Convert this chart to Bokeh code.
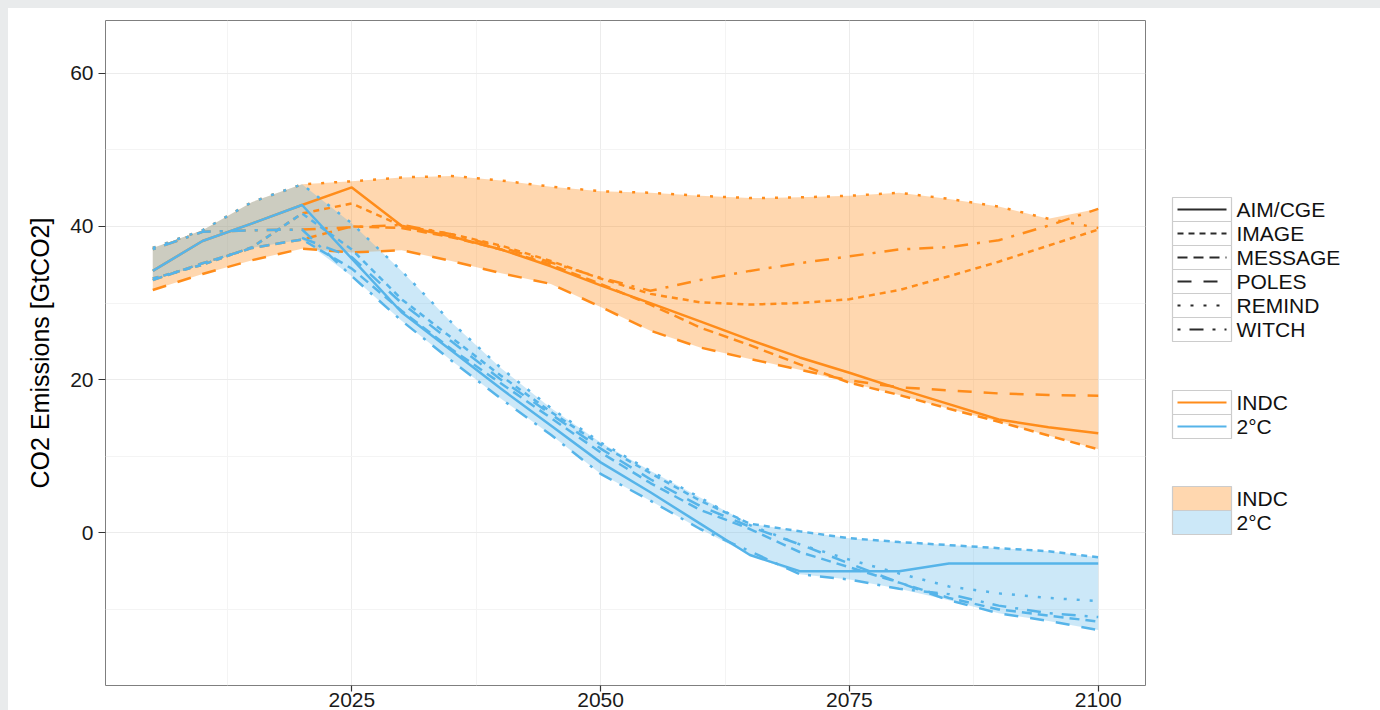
import numpy as np
from bokeh.plotting import figure
from bokeh.models import Range1d, FixedTicker, GlobalInlineStyleSheet
from bokeh.layouts import row
from bokeh.core.properties import value
from bokeh.embed import file_html
from bokeh.resources import INLINE

nan = float("nan")

years = [2005, 2010, 2015, 2020, 2025, 2030, 2035, 2040, 2045, 2050,
         2055, 2060, 2065, 2070, 2075, 2080, 2085, 2090, 2095, 2100]

models = ["AIM/CGE", "IMAGE", "MESSAGE", "POLES", "REMIND", "WITCH"]
scenarios = ["INDC", "2°C"]

# INDC scenario, GtCO2
aim_indc = [34.2, 38.1, 40.4, 42.8, 45.1, 40.1, 38.7, 37.0, 34.8, 32.3, 30.0, 27.6, 25.2, 22.9, 20.9, 18.8, 16.8, 14.8, 13.8, 13.0]
image_indc = [33.2, 35.0, 37.3, 41.7, 43.0, 40.1, 39.0, 37.5, 35.5, 33.2, 31.2, 30.1, 29.8, 30.0, 30.5, 31.7, 33.5, 35.4, 37.5, 39.6]
message_indc = [33.0, 35.2, 37.2, 38.3, 40.0, 39.8, 38.6, 37.0, 35.0, 32.5, 29.8, 26.8, 24.5, 22.0, 19.6, 18.0, 16.2, 14.5, 12.7, 10.9]
poles_indc = [31.7, 33.8, 35.6, 37.1, 36.6, 36.9, 35.5, 33.9, 32.5, 29.5, 26.4, 24.2, 22.7, 21.3, 19.9, 19.0, 18.6, 18.2, 18.0, 17.9]
remind_indc = [37.2, 39.5, 43.2, 45.5, 45.9, 46.4, 46.6, 46.0, 45.2, 44.6, 44.4, 44.0, 43.7, 43.8, 44.0, 44.4, 43.6, 42.6, 41.0, 39.8]
witch_indc = [37.0, 39.3, 39.5, 39.6, 39.9, 40.2, 39.0, 37.3, 35.3, 33.3, 31.6, 33.0, 34.2, 35.2, 36.1, 37.0, 37.3, 38.2, 40.1, 42.3]

# 2°C scenario, GtCO2
aim_2c = [34.2, 38.1, 40.4, 42.8, 35.8, 28.8, 23.8, 18.8, 14.0, 9.2, 5.3, 1.2, -2.9, -5.0, -5.0, -5.0, -4.0, -4.0, -4.0, -4.0]
image_2c = [33.2, 35.0, 37.3, 41.7, 37.0, 30.5, 25.5, 20.5, 15.8, 11.5, 7.8, 4.2, 1.2, 0.2, -0.7, -1.2, -1.6, -2.0, -2.4, -3.2]
message_2c = [33.0, 35.2, 37.2, 38.3, 34.5, 29.0, 24.0, 19.5, 15.0, 10.5, 6.5, 3.0, 0.5, -2.5, -4.5, -6.5, -8.5, -10.0, -10.8, -11.6]
poles_2c = [nan, nan, nan, 38.5, 36.0, 30.0, 25.0, 20.0, 15.5, 11.0, 7.0, 3.5, 0.8, -1.5, -4.0, -6.5, -8.8, -10.5, -11.5, -12.7]
remind_2c = [37.2, 39.5, 43.2, 45.5, 40.4, 34.2, 27.5, 21.5, 16.3, 11.8, 8.1, 4.6, 1.0, -1.5, -3.5, -5.3, -7.0, -7.9, -8.5, -8.9]
witch_2c = [37.0, 39.3, 39.5, 39.6, 33.5, 27.7, 22.5, 17.5, 12.8, 7.7, 4.2, 0.5, -2.4, -5.4, -6.1, -7.3, -8.0, -9.5, -10.5, -11.0]

x_ticks = [2025, 2050, 2075, 2100]
y_ticks = [0, 20, 40, 60]

indc = [aim_indc, image_indc, message_indc, poles_indc, remind_indc, witch_indc]
two_c = [aim_2c, image_2c, message_2c, poles_2c, remind_2c, witch_2c]

# styles
ORANGE = "#FF8C1A"
BLUE = "#56B4E9"
dash_of = {"AIM/CGE": "solid", "IMAGE": "6 5", "MESSAGE": "10 6",
           "POLES": "14 12", "REMIND": "3 10", "WITCH": "3 9 14 9"}
FONT = "Liberation Sans"

FW, FH, BT, BB = 1040, 665, 12, 40

p = figure(frame_width=FW, frame_height=FH,
           x_range=Range1d(2000.25, 2104.75), y_range=Range1d(-19.93, 66.89),
           toolbar_location=None, output_backend="svg",
           min_border_left=97, min_border_right=5, min_border_top=BT, min_border_bottom=BB)
p.background_fill_color = "white"
p.border_fill_color = "white"
p.outline_line_color = "#7f7f7f"
p.outline_line_width = 1

p.xaxis.ticker = FixedTicker(ticks=x_ticks, minor_ticks=[2012.5, 2037.5, 2062.5, 2087.5])
p.yaxis.ticker = FixedTicker(ticks=y_ticks, minor_ticks=[-10, 10, 30, 50])
p.xgrid.ticker = p.xaxis[0].ticker
p.ygrid.ticker = p.yaxis[0].ticker
for g in (p.xgrid[0], p.ygrid[0]):
    g.grid_line_color = "#ececec"
    g.grid_line_width = 1
    g.minor_grid_line_color = "#f4f4f4"
    g.minor_grid_line_width = 1

for ax in (p.xaxis[0], p.yaxis[0]):
    ax.axis_line_color = None
    ax.major_tick_line_color = "#333333"
    ax.major_tick_line_width = 1.2
    ax.major_tick_out = 7
    ax.major_tick_in = 0
    ax.minor_tick_line_color = None
    ax.major_label_text_font = FONT
    ax.major_label_text_font_size = "21px"
    ax.major_label_text_color = "#1a1a1a"
    ax.major_label_standoff = 5
p.xaxis[0].major_tick_out = 6
p.xaxis[0].major_label_standoff = 1

p.yaxis[0].axis_label = "CO2 Emissions [GtCO2]"
p.yaxis[0].axis_label_text_font = FONT
p.yaxis[0].axis_label_text_font_size = "25px"
p.yaxis[0].axis_label_text_font_style = "normal"
p.yaxis[0].axis_label_text_color = "#000000"
p.yaxis[0].axis_label_standoff = 13

# ribbons (range across models)
arr_indc = np.array(indc, dtype=float)
arr_2c = np.array(two_c, dtype=float)
p.varea(x=years, y1=np.nanmin(arr_indc, axis=0), y2=np.nanmax(arr_indc, axis=0),
        fill_color=ORANGE, fill_alpha=0.35)
p.varea(x=years, y1=np.nanmin(arr_2c, axis=0), y2=np.nanmax(arr_2c, axis=0),
        fill_color=BLUE, fill_alpha=0.3)

for m, vals in zip(models, indc):
    p.line(years, vals, line_color=ORANGE, line_width=2.5, line_dash=dash_of[m])
for m, vals in zip(models, two_c):
    p.line(np.array(years, dtype=float), np.array(vals, dtype=float),
           line_color=BLUE, line_width=2.5, line_dash=dash_of[m])

# legend panel: same vertical structure as the main plot, y in page pixels
PAGE_TOP = 8 + BT
lg = figure(frame_width=230, frame_height=FH,
            x_range=Range1d(1150, 1380), y_range=Range1d(PAGE_TOP + FH, PAGE_TOP),
            toolbar_location=None, output_backend="svg",
            min_border_left=0, min_border_right=0, min_border_top=BT, min_border_bottom=BB,
            x_axis_type=None, y_axis_type=None)
lg.outline_line_color = None
lg.background_fill_color = "white"
lg.border_fill_color = "white"

KL, KR, TX, RH = 1172, 1231, 1236, 24


def key_boxes(top, n, fills=None, alphas=None):
    tops = [top + RH * i for i in range(n)]
    bots = [t + RH for t in tops]
    lg.quad(left=KL, right=KR, top=tops, bottom=bots,
            fill_color=fills if fills else "white",
            fill_alpha=alphas if alphas else 1.0,
            line_color="#cccccc", line_width=1.2)
    return [t + RH / 2 for t in tops]


c1 = key_boxes(197, len(models))
for m, cy in zip(models, c1):
    lg.line([KL + 5, KR - 5], [cy, cy], line_color="#2b2b2b", line_width=2, line_dash=dash_of[m])
lg.text(x=[TX] * len(models), y=c1, text=models, text_baseline="middle",
        text_font=value(FONT), text_font_size="21px", text_color="#111111")

c2 = key_boxes(390, len(scenarios))
for col, cy in zip([ORANGE, BLUE], c2):
    lg.line([KL + 5, KR - 5], [cy, cy], line_color=col, line_width=2)
lg.text(x=[TX] * len(scenarios), y=c2, text=scenarios, text_baseline="middle",
        text_font=value(FONT), text_font_size="21px", text_color="#111111")

c3 = key_boxes(486, len(scenarios), fills=[ORANGE, BLUE], alphas=[0.35, 0.3])
lg.text(x=[TX] * len(scenarios), y=c3, text=scenarios, text_baseline="middle",
        text_font=value(FONT), text_font_size="21px", text_color="#111111")

layout = row(p, lg)
layout.styles = {"background-color": "white"}
layout.stylesheets = [GlobalInlineStyleSheet(
    css="html, body { background: #e9ebec !important; overflow: hidden !important; } "
        "body { margin: 8px 0 0 8px !important; }")]

open("out.html", "w").write(file_html(layout, INLINE))
